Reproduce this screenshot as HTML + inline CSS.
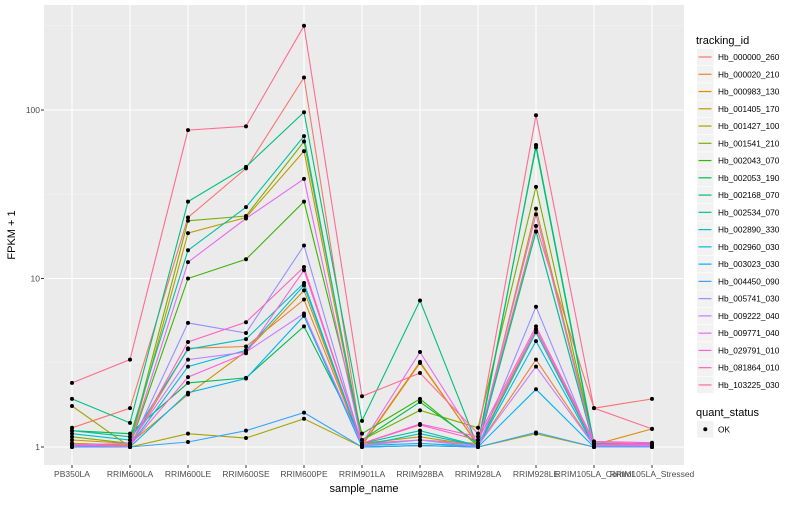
<!DOCTYPE html>
<html><head><meta charset="utf-8"><style>
body{margin:0;background:#fff;}
svg{font-family:"Liberation Sans",sans-serif;}
</style></head><body>
<svg id="chart" width="800" height="500" xmlns="http://www.w3.org/2000/svg">
<rect x="0" y="0" width="800" height="500" fill="#fff"/>
<rect x="44" y="5" width="640" height="460" fill="#EBEBEB"/>
<g id="grid"></g>
<g id="lines"></g>
<g id="points"></g>
<g id="axes"></g>
<g id="legend"></g>
</svg>
<script>
const categories=["PB350LA","RRIM600LA","RRIM600LE","RRIM600SE","RRIM600PE","RRIM901LA","RRIM928BA","RRIM928LA","RRIM928LE","RRIM105LA_Control","RRIM105LA_Stressed"];
const seriesNames=["Hb_000000_260","Hb_000020_210","Hb_000983_130","Hb_001405_170","Hb_001427_100","Hb_001541_210","Hb_002043_070","Hb_002053_190","Hb_002168_070","Hb_002534_070","Hb_002890_330","Hb_002960_030","Hb_003023_030","Hb_004450_090","Hb_005741_030","Hb_009222_040","Hb_009771_040","Hb_029791_010","Hb_081864_010","Hb_103225_030"];
const seriesColors=["#F8766D","#EA8331","#D89000","#C09B00","#A3A500","#7CAE00","#39B600","#00BB4E","#00BF7D","#00C1A3","#00BFC4","#00BAE0","#00B0F6","#35A2FF","#9590FF","#C77CFF","#E76BF3","#FA62DB","#FF62BC","#FF6C91"];
const s01=[1.3,1.7,23,45,156,1.05,1.1,1.05,20.5,1.7,1.93];
const s02=[1.05,1.02,3.85,3.95,7.5,1.03,3.2,1.02,3.3,1.02,1.02];
const s03=[1.1,1.05,2.05,3.7,8.5,1.02,3.15,1.03,5.0,1.03,1.28];
const s04=[1.05,1.03,18.6,23,57,1.05,1.15,1.02,26,1.05,1.05];
const s05=[1.75,1.0,1.2,1.13,1.47,1.0,1.02,1.0,1.2,1.0,1.0];
const s06=[1.15,1.05,22,23.5,65,1.1,1.65,1.3,35,1.04,1.03];
const s07=[1.0,1.02,10,13,28.6,1.2,1.93,1.02,19,1.02,1.02];
const s08=[1.25,1.2,2.4,2.57,5.2,1.1,1.85,1.05,60,1.02,1.02];
const s09=[1.93,1.39,28.6,46,97,1.43,7.4,1.0,62,1.05,1.05];
const s10=[1.25,1.15,14.7,26.5,70,1.05,1.25,1.02,19,1.02,1.02];
const s11=[1.2,1.1,3.8,4.37,9.4,1.02,1.2,1.02,4.8,1.02,1.02];
const s12=[1.02,1.02,3.0,3.75,9.1,1.02,1.05,1.01,4.25,1.01,1.01];
const s13=[1.0,1.0,2.1,2.55,6.0,1.0,1.02,1.0,2.2,1.0,1.0];
const s14=[1.0,1.0,1.07,1.25,1.6,1.0,1.02,1.0,1.22,1.0,1.0];
const s15=[1.02,1.0,5.45,4.75,15.7,1.02,1.1,1.0,6.8,1.0,1.0];
const s16=[1.03,1.05,3.3,3.66,6.2,1.03,1.1,1.02,3.0,1.02,1.02];
const s17=[1.02,1.02,12.5,22.7,39,1.05,3.66,1.05,24,1.03,1.03];
const s18=[1.02,1.02,2.6,3.6,11.2,1.05,1.37,1.15,5.2,1.08,1.06];
const s19=[1.02,1.02,4.2,5.5,11.7,1.05,1.35,1.1,5.0,1.06,1.04];
const s20=[2.4,3.3,76,80,316,2.0,2.75,1.2,93,1.7,1.28];
const seriesValues=[s01,s02,s03,s04,s05,s06,s07,s08,s09,s10,s11,s12,s13,s14,s15,s16,s17,s18,s19,s20];
const yTickValues=[1,10,100];
const yTickLabels=["1","10","100"];
const yMinorValues=[Math.sqrt(10),Math.sqrt(1000),Math.sqrt(100000)];

const NS="http://www.w3.org/2000/svg";
const X0=72, XSTEP=58, Y1=447, DEC=168.5;
function xScale(i){return X0+i*XSTEP;}
function yScale(v){return Y1-Math.log10(v)*DEC;}
function mk(tag,attrs,parent){const e=document.createElementNS(NS,tag);for(const k in attrs)e.setAttribute(k,attrs[k]);parent.appendChild(e);return e;}
const grid=document.getElementById('grid'),lines=document.getElementById('lines'),pts=document.getElementById('points'),axes=document.getElementById('axes'),leg=document.getElementById('legend');

yMinorValues.forEach(v=>{const y=yScale(v);if(y>5&&y<465){const l=mk('line',{x1:44,x2:684,y1:y,y2:y,stroke:'#F5F5F5','stroke-width':0.6},grid);

}});
yTickValues.forEach((v,i)=>{const y=yScale(v);const l=mk('line',{x1:44,x2:684,y1:y,y2:y,stroke:'#fff','stroke-width':1.1},grid);


const t=mk('text',{x:40,y:y+3,'text-anchor':'end','font-size':'8.5',fill:'#4D4D4D'},axes);t.textContent=yTickLabels[i];


mk('line',{x1:41,x2:44,y1:y,y2:y,stroke:'#333','stroke-width':1},axes);});
categories.forEach((c,i)=>{const x=xScale(i);const l=mk('line',{x1:x,x2:x,y1:5,y2:465,stroke:'#fff','stroke-width':1.1},grid);


mk('line',{x1:x,x2:x,y1:465,y2:468,stroke:'#333','stroke-width':1},axes);
const t=mk('text',{x:x,y:477,'text-anchor':'middle','font-size':'8.5',fill:'#4D4D4D'},axes);t.textContent=c;

});
seriesValues.forEach((vals,s)=>{const d=vals.map((v,i)=>(i?'L':'M')+xScale(i).toFixed(1)+','+yScale(v).toFixed(1)).join(' ');
const p=mk('path',{d:d,fill:'none',stroke:seriesColors[s],'stroke-width':1.1},lines);


vals.forEach((v,i)=>{const c=mk('circle',{cx:xScale(i),cy:yScale(v),r:2,fill:'#000'},pts);

});});
const yt=mk('text',{x:15,y:235,'text-anchor':'middle','font-size':'11',fill:'#000',transform:'rotate(-90 15 235)'},axes);yt.textContent='FPKM + 1';


const xt=mk('text',{x:364,y:492,'text-anchor':'middle','font-size':'11',fill:'#000'},axes);xt.textContent='sample_name';


const lt=mk('text',{x:696,y:44,'font-size':'11',fill:'#000'},leg);lt.textContent='tracking_id';


seriesNames.forEach((n,s)=>{const cy=57+s*17.26;
const g=mk('g',{},leg);


mk('rect',{x:697,y:cy-8.3,width:16.6,height:16.6,fill:'#F2F2F2'},g);
mk('line',{x1:698.5,x2:711.5,y1:cy,y2:cy,stroke:seriesColors[s],'stroke-width':1.2},g);
const t=mk('text',{x:718,y:cy+3,'font-size':'8.3',fill:'#000'},g);t.textContent=n;});
const qt=mk('text',{x:696,y:416,'font-size':'11',fill:'#000'},leg);qt.textContent='quant_status';


const qg=mk('g',{},leg);


mk('rect',{x:697,y:421,width:16.6,height:16.6,fill:'#F2F2F2'},qg);
mk('circle',{cx:705.3,cy:429.3,r:2,fill:'#000'},qg);
const ok=mk('text',{x:718,y:432.5,'font-size':'8.3',fill:'#000'},qg);ok.textContent='OK';
</script>
</body></html>
